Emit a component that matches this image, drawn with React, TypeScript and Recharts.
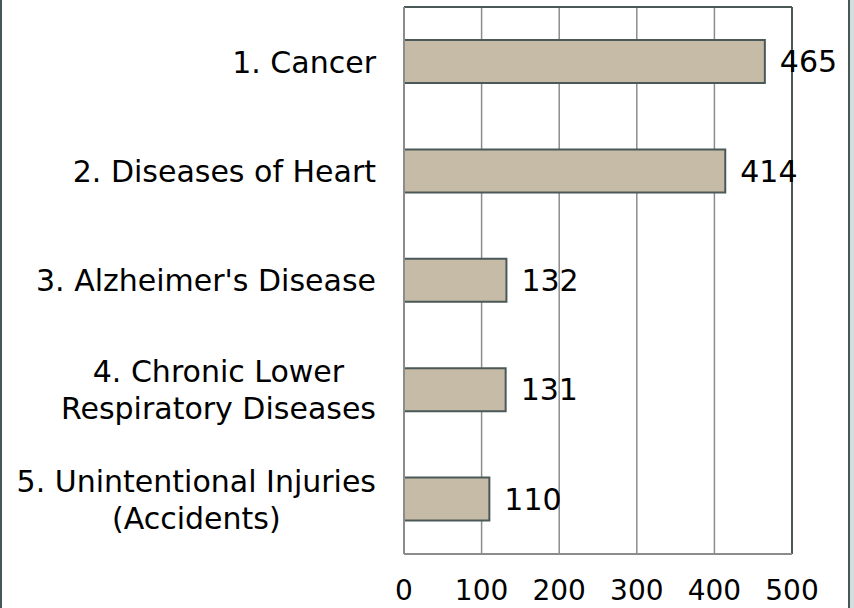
import React from "react"
import { Bar, BarChart, XAxis, YAxis, CartesianGrid, LabelList, ReferenceLine } from "recharts"

const causes = [
  "1. Cancer",
  "2. Diseases of Heart",
  "3. Alzheimer's Disease",
  "4. Chronic Lower\nRespiratory Diseases",
  "5. Unintentional Injuries\n(Accidents)",
]
const deaths = [465, 414, 132, 131, 110]
const xTicks = [0, 100, 200, 300, 400, 500]

const data = causes.map((name, i) => ({ name, deaths: deaths[i] }))

const FONT = "DejaVu Sans, Verdana, sans-serif"
const SIZE = 30

let ctx: CanvasRenderingContext2D | null = null
function measure(s: string) {
  if (!ctx) ctx = document.createElement("canvas").getContext("2d")
  if (!ctx) return s.length * SIZE * 0.6
  ctx.font = `${SIZE}px "DejaVu Sans"`
  return ctx.measureText(s).width
}

function CauseTick(props: any) {
  const { x, y, payload } = props
  const lines = String(payload.value).split("\n")
  const w = Math.max(...lines.map(measure))
  const right = x - 20
  const cx = right - w / 2
  return (
    <g>
      {lines.map((l, i) => (
        <text
          key={i}
          x={cx}
          y={y + (i - (lines.length - 1) / 2) * 37}
          dy="0.36em"
          textAnchor="middle"
          fontFamily={FONT}
          fontSize={SIZE}
          fill="#000"
        >
          {l}
        </text>
      ))}
    </g>
  )
}

export default function App() {
  return (
    <div style={{ position: "absolute", left: 0, top: 0, width: 854, height: 608, background: "#fff" }}>
      <div style={{ position: "absolute", left: 0, top: 0, width: 2, height: 608, background: "#46575a" }} />
      <div style={{ position: "absolute", left: 848, top: 0, width: 2, height: 608, background: "#46575a" }} />
      <div style={{ position: "absolute", left: 850, top: 0, width: 4, height: 608, background: "#d3dddd" }} />
      <BarChart
        width={854}
        height={608}
        data={data}
        layout="vertical"
        margin={{ top: 6, right: 62, bottom: 0, left: 0 }}
        barCategoryGap={0}
        style={{ position: "absolute", left: 0, top: 0 }}
      >
        <CartesianGrid horizontal={false} stroke="#8c8c8c" strokeWidth={1.5} />
        <XAxis
          type="number"
          domain={[0, 500]}
          ticks={xTicks}
          height={54}
          tickLine={false}
          axisLine={{ stroke: "#8c8c8c", strokeWidth: 2 }}
          tick={{ fontFamily: FONT, fontSize: 28, fill: "#000" }}
          tickMargin={20}
          interval={0}
        />
        <XAxis
          xAxisId="top"
          orientation="top"
          type="number"
          domain={[0, 500]}
          height={1}
          tick={false}
          tickLine={false}
          axisLine={{ stroke: "#4b5858", strokeWidth: 2 }}
        />
        <YAxis
          type="category"
          dataKey="name"
          width={404}
          tickLine={false}
          axisLine={{ stroke: "#8c8c8c", strokeWidth: 2 }}
          tick={<CauseTick />}
          interval={0}
        />
        <ReferenceLine x={500} stroke="#4b5858" strokeWidth={2} />
        <Bar dataKey="deaths" fill="#c6bba6" stroke="#4b5858" strokeWidth={2} barSize={43} isAnimationActive={false}>
          <LabelList dataKey="deaths" position="right" offset={15} fill="#000" fontFamily={FONT} fontSize={SIZE} />
        </Bar>
      </BarChart>
    </div>
  )
}
